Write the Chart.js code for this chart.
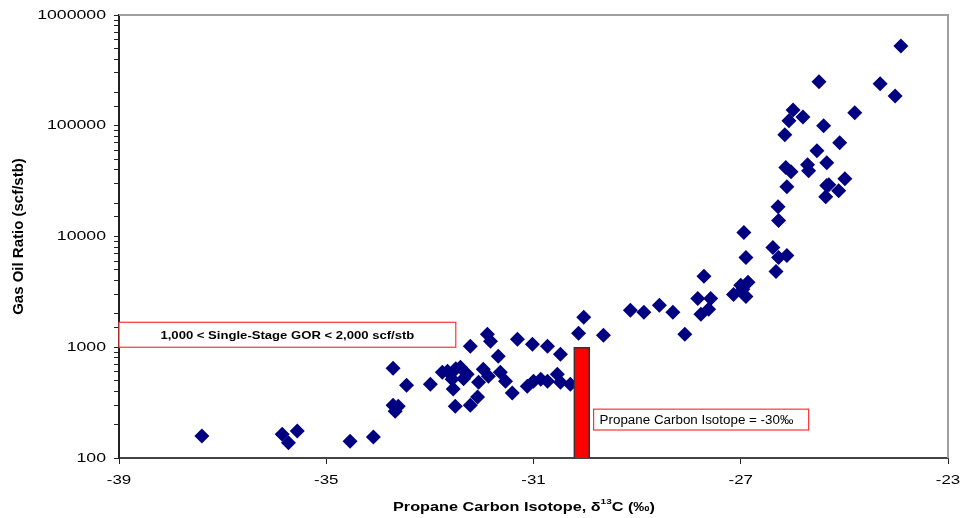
<!DOCTYPE html>
<html>
<head>
<meta charset="utf-8">
<script src="https://cdn.jsdelivr.net/npm/chart.js@4.4.1/dist/chart.umd.min.js"></script>
<style>
  html, body { margin: 0; padding: 0; background: #fff; }
  #wrap { width: 977px; height: 518px; }
</style>
</head>
<body>
<div id="wrap"><canvas id="grafico"></canvas></div>
<script>
// Datos: isótopo de carbono del propano (‰) y GOR (scf/stb)
const isotopo = [
  -37.40, -35.85, -35.73, -35.56, -34.54, -34.09,
  -33.71, -33.45, -33.71, -33.67, -33.61, -32.99, -32.76, -32.66, -32.57, -32.55,
  -32.51, -32.41, -32.28, -32.22, -32.08, -32.06, -31.97, -31.87, -32.22, -31.89,
  -31.83, -31.68, -31.64, -31.54, -31.41, -31.31, -31.02, -30.73, -30.48, -31.12,
  -31.00, -30.86, -30.73, -30.54, -30.48, -30.29, -30.13, -30.03, -29.65, -29.13,
  -28.87, -28.57, -28.31, -28.08, -27.71, -27.83, -27.58, -27.62, -27.77, -27.14,
  -27.00, -26.86, -26.90, -26.96, -26.94, -26.90, -26.28, -26.27, -26.38, -26.32,
  -26.27, -26.11, -26.11, -26.03, -26.13, -25.69, -25.71, -25.53, -25.34, -25.34,
  -25.36, -25.11, -25.30, -24.99, -25.09, -25.49, -24.31, -24.02, -23.91, -25.99,
  -25.80, -26.07, -25.40, -26.15, -24.80, -32.50, -32.35
];
const gor = [
  158, 164, 137, 175, 142, 155,
  647, 455, 300, 265, 294, 464, 595, 608, 515, 419,
  294, 661, 571, 300, 355, 484, 634, 548, 1021, 1310,
  1132, 830, 595, 494, 386, 1181, 1064, 1021, 865, 445,
  494, 515, 494, 571, 484, 464, 1337, 1862, 1283, 2154,
  2065, 2390, 2065, 1310, 4365, 2761, 2761, 2198, 1983, 3000,
  3622, 3855, 2877, 3338, 10860, 6470, 18600, 13930, 7960, 4840,
  6470, 6740, 28200, 38500, 41900, 39300, 44500, 59600, 46400, 28800,
  22900, 25900, 29400, 33300, 70300, 249000, 239000, 186000, 526000, 139000,
  120000, 111000, 100000, 83000, 131000, 640, 520
];

// Barra de corte del isótopo (-30‰) hasta GOR 1000
const isotopoCorte = [-30.07];
const gorCorte = [1000];

const xTicks = [-39, -35, -31, -27, -23];
const yTicks = [100, 1000, 10000, 100000, 1000000];

const fuente = '"Liberation Sans", Arial, sans-serif';

// Texto estirado horizontalmente (el original está deformado a lo ancho)
function textoEstirado(ctx, txt, x, y, font, sx, align) {
  ctx.save();
  ctx.font = font;
  ctx.textBaseline = 'middle';
  ctx.textAlign = 'left';
  const w = ctx.measureText(txt).width * sx;
  const x0 = align === 'right' ? x - w : (align === 'center' ? x - w / 2 : x);
  ctx.translate(x0, y);
  ctx.scale(sx, 1);
  ctx.fillStyle = '#000';
  ctx.fillText(txt, 0, 0);
  ctx.restore();
  return w;
}

function cajaTexto(ctx, x1, y1, x2, y2) {
  ctx.save();
  ctx.fillStyle = '#fff';
  ctx.fillRect(x1, y1, x2 - x1, y2 - y1);
  ctx.strokeStyle = '#ff3333';
  ctx.lineWidth = 1.2;
  ctx.strokeRect(x1, y1, x2 - x1, y2 - y1);
  ctx.restore();
}

const textosPlugin = {
  id: 'textos',
  afterDraw(chart) {
    const ctx = chart.ctx;
    const area = chart.chartArea;
    const sx = chart.scales.x;
    const sy = chart.scales.y;

    // borde superior y derecho gris
    ctx.save();
    ctx.strokeStyle = '#a0a0a0';
    ctx.lineWidth = 2;
    ctx.beginPath();
    ctx.moveTo(area.left, area.top);
    ctx.lineTo(area.right, area.top);
    ctx.lineTo(area.right, area.bottom);
    ctx.stroke();
    ctx.restore();

    // etiquetas de los ejes
    yTicks.forEach(v => {
      textoEstirado(ctx, String(v), area.left - 13, sy.getPixelForValue(v), '13px ' + fuente, 1.36, 'right');
    });
    xTicks.forEach(v => {
      textoEstirado(ctx, String(v), sx.getPixelForValue(v), area.bottom + 22, '13px ' + fuente, 1.3, 'center');
    });

    // título eje X con superíndice
    const yT = area.bottom + 49;
    const fb = 'bold 13px ' + fuente;
    const fs = 'bold 8px ' + fuente;
    const k = 1.25;
    ctx.save();
    ctx.font = fb;
    const w1 = ctx.measureText('Propane Carbon Isotope, δ').width * k;
    const w3 = ctx.measureText('C (‰)').width * k;
    ctx.font = fs;
    const w2 = ctx.measureText('13').width * k;
    ctx.restore();
    let xx = 393;
    xx += textoEstirado(ctx, 'Propane Carbon Isotope, δ', xx, yT, fb, k, 'left');
    xx += textoEstirado(ctx, '13', xx, yT - 5, fs, k, 'left');
    textoEstirado(ctx, 'C (‰)', xx, yT, fb, k, 'left');

    // título eje Y
    ctx.save();
    ctx.translate(19, (area.top + area.bottom) / 2);
    ctx.rotate(-Math.PI / 2);
    ctx.font = 'bold 15px ' + fuente;
    ctx.textAlign = 'center';
    ctx.textBaseline = 'middle';
    ctx.fillStyle = '#000';
    ctx.fillText('Gas Oil Ratio (scf/stb)', 0, 0);
    ctx.restore();

    // cuadro GOR de una etapa
    const b1x1 = sx.getPixelForValue(-39), b1x2 = sx.getPixelForValue(-32.5);
    const b1y1 = sy.getPixelForValue(1680), b1y2 = sy.getPixelForValue(1000);
    cajaTexto(ctx, b1x1, b1y1, b1x2, b1y2);
    textoEstirado(ctx, '1,000 < Single-Stage GOR < 2,000 scf/stb', (b1x1 + b1x2) / 2, (b1y1 + b1y2) / 2 + 1,
      'bold 11px ' + fuente, 1.19, 'center');

    // cuadro del isótopo de corte
    const b2x1 = sx.getPixelForValue(-29.84), b2x2 = sx.getPixelForValue(-25.69);
    const b2y1 = sy.getPixelForValue(276), b2y2 = sy.getPixelForValue(179);
    cajaTexto(ctx, b2x1, b2y1, b2x2, b2y2);
    textoEstirado(ctx, 'Propane Carbon Isotope = -30‰', b2x1 + 6, (b2y1 + b2y2) / 2 + 1,
      '12.5px ' + fuente, 1.07, 'left');
  }
};

const puntos = isotopo.map((x, i) => ({ x: x, y: gor[i] }));
const barra = isotopoCorte.map((x, i) => ({ x: x, y: gorCorte[i] }));

new Chart(document.getElementById('grafico'), {
  type: 'scatter',
  data: {
    datasets: [
      {
        type: 'bar',
        label: 'Corte',
        data: barra,
        backgroundColor: '#ff0000',
        borderColor: '#333',
        borderWidth: 1.5,
        barThickness: 16,
        order: 0
      },
      {
        label: 'GOR',
        data: puntos,
        pointStyle: 'rectRot',
        pointRadius: 7.5,
        pointHoverRadius: 7.5,
        backgroundColor: '#000080',
        borderColor: '#000080',
        borderWidth: 0,
        order: 1
      }
    ]
  },
  options: {
    responsive: true,
    maintainAspectRatio: false,
    animation: false,
    layout: { padding: { left: 0, right: 29, top: 15, bottom: 0 } },
    plugins: { legend: { display: false }, tooltip: { enabled: false } },
    scales: {
      x: {
        type: 'linear',
        min: -39,
        max: -23,
        offset: false,
        afterFit(scale) { scale.height = 60; },
        ticks: { stepSize: 4, color: 'rgba(0,0,0,0)' },
        grid: { offset: false, drawOnChartArea: false, drawTicks: true, tickLength: 6, color: '#222' },
        border: { color: '#444', width: 2 }
      },
      y: {
        type: 'logarithmic',
        min: 100,
        max: 1000000,
        afterFit(scale) { scale.width = 119; },
        ticks: {
          autoSkip: false,
          color: 'rgba(0,0,0,0)',
          callback: (v) => yTicks.includes(v) ? String(v) : ''
        },
        grid: { drawOnChartArea: false, drawTicks: true, tickLength: 5, color: '#222' },
        border: { color: '#222', width: 2 }
      }
    }
  },
  plugins: [textosPlugin]
});
</script>
</body>
</html>
